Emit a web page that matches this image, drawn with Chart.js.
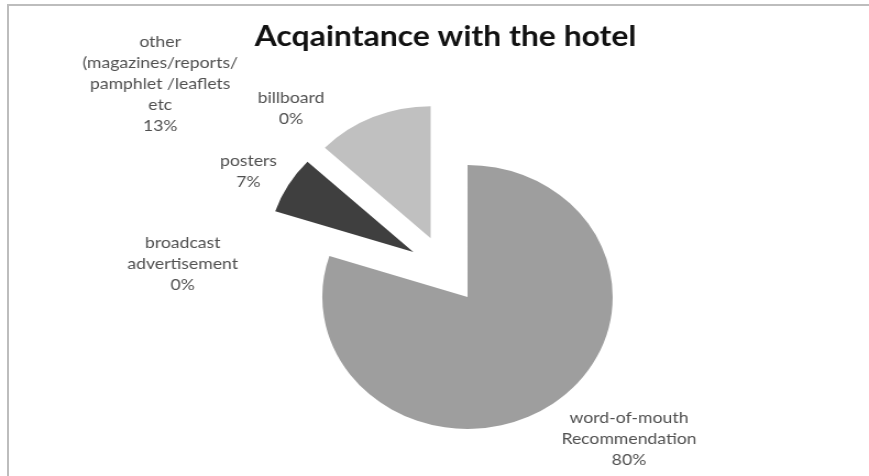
<!DOCTYPE html>
<html>
<head>
<meta charset="utf-8">
<script src="https://cdn.jsdelivr.net/npm/chart.js@4.4.1/dist/chart.umd.min.js"></script>
<style>
  html, body { margin: 0; padding: 0; background: #fff; }
  body { width: 869px; height: 476px; overflow: hidden; position: relative; }
  #frame {
    position: absolute; left: 7px; top: 4px; width: 880px; height: 500px;
    border-left: 2px solid #bdbdbd; border-top: 2px solid #bdbdbd;
  }
  #stretch {
    position: absolute; left: 0; top: 0; width: 790px; height: 476px;
    transform: scaleX(1.1); transform-origin: 0 0;
  }
</style>
</head>
<body>
<div id="frame"></div>
<div id="stretch"><canvas id="pie" width="790" height="476"></canvas></div>
<script>
// data
const labels = [
  ["word-of-mouth", "Recommendation"],
  ["broadcast", "advertisement"],
  ["posters"],
  ["billboard"],
  ["other", "(magazines/reports/", "pamphlet /leaflets", "etc"]
];
const shares = [80, 0, 7, 0, 13];
const sliceColors = ["#9e9e9e", "#9e9e9e", "#3f3f3f", "#bdbdbd", "#c0c0c0"];

// label placement: angle shift (deg) from slice middle, distance from centre
const labelPlace = [
  { da: -8.5, dist: 238 },
  { da: -16.6, dist: 239 },
  { da: -2, dist: 204 },
  { da: 5.8, dist: 214 },
  { da: -31, dist: 319 }
];

const RADIUS = 132;
const EXPLODE = 34;

// push every slice out along its middle angle (like Excel "explode")
const explodePlugin = {
  id: "explode",
  afterDatasetUpdate(chart) {
    const meta = chart.getDatasetMeta(0);
    meta.data.forEach(arc => {
      const mid = (arc.startAngle + arc.endAngle) / 2;
      arc.cx0 = arc.x;
      arc.cy0 = arc.y;
      arc.x += Math.cos(mid) * EXPLODE;
      arc.y += Math.sin(mid) * EXPLODE;
    });
  }
};

const labelPlugin = {
  id: "sliceLabels",
  afterDatasetsDraw(chart) {
    const ctx = chart.ctx;
    const meta = chart.getDatasetMeta(0);
    ctx.save();
    ctx.font = "16px Lato";
    ctx.fillStyle = "#505050";
    ctx.textAlign = "center";
    ctx.textBaseline = "middle";
    meta.data.forEach((arc, i) => {
      const mid = (arc.startAngle + arc.endAngle) / 2 + labelPlace[i].da * Math.PI / 180;
      const x = arc.cx0 + Math.cos(mid) * labelPlace[i].dist;
      const y = arc.cy0 + Math.sin(mid) * labelPlace[i].dist;
      const lines = labels[i].concat([shares[i] + "%"]);
      const lh = 21;
      lines.forEach((t, k) => {
        ctx.fillText(t, x, y + (k - (lines.length - 1) / 2) * lh);
      });
    });
    ctx.restore();
  }
};

new Chart(document.getElementById("pie"), {
  type: "pie",
  data: {
    labels: labels.map(l => l.join(" ")),
    datasets: [{
      data: shares,
      backgroundColor: sliceColors,
      borderWidth: 0
    }]
  },
  options: {
    responsive: false,
    animation: false,
    radius: RADIUS,
    layout: { padding: { left: 20, right: 0, top: 0, bottom: 0 } },
    plugins: {
      legend: { display: false },
      tooltip: { enabled: false },
      title: {
        display: true,
        text: "Acqaintance with the hotel",
        color: "#111",
        font: { family: "Lato", size: 29, weight: "bold" },
        padding: { top: 19, bottom: 9 }
      }
    }
  },
  plugins: [explodePlugin, labelPlugin]
});
</script>
</body>
</html>
